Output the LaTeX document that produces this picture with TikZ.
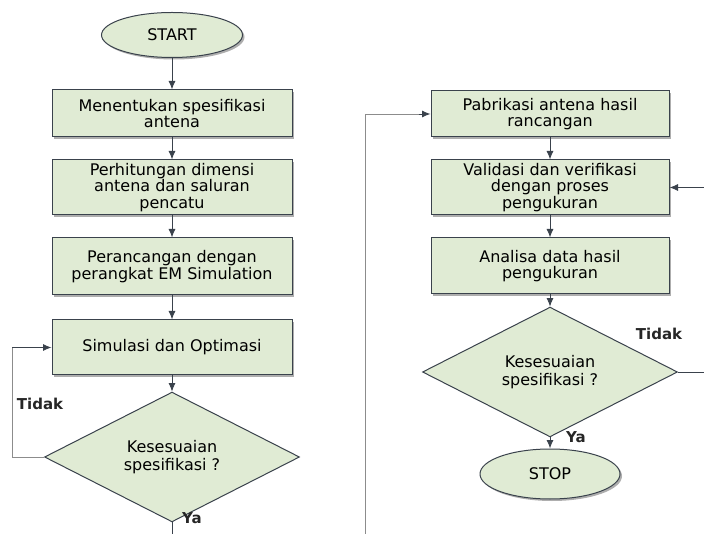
\documentclass[tikz,border=0pt]{standalone}
\usepackage{fontspec}
\setmainfont{DejaVu Sans}
\usetikzlibrary{shapes.geometric,arrows.meta,shadows}
\definecolor{hijau}{RGB}{224,235,212}
\definecolor{tepi}{RGB}{58,66,76}
\definecolor{abu}{RGB}{140,140,140}
\tikzset{
  bayang/.style={drop shadow={shadow xshift=2pt,shadow yshift=-2pt,fill=black!45,opacity=0.7}},
  proses/.style={rectangle, draw=tepi, fill=hijau, line width=1pt, minimum width=240pt, inner sep=0pt, align=center, font=\fontsize{16}{16.5}\selectfont, bayang},
  mulai/.style={ellipse, draw=tepi, fill=hijau, line width=1pt, inner sep=0pt, font=\fontsize{16}{16.5}\selectfont, bayang},
  cek/.style={diamond, draw=tepi, fill=hijau, line width=1pt, inner sep=0pt, minimum width=255pt, minimum height=110pt, align=center, font=\fontsize{16}{18}\selectfont},
  panah/.style={draw=tepi, line width=0.9pt, -{Latex[length=8.5pt,width=7pt]}},
  garis/.style={draw=tepi, line width=0.9pt},
  garisabu/.style={draw=abu, line width=0.9pt},
  label/.style={font=\fontsize{15}{16}\selectfont\bfseries, text=black!85}
}
\begin{document}
\begin{tikzpicture}[x=1pt,y=-1pt]

\useasboundingbox[fill=white] (0,0) rectangle (704,534);

\node[mulai, minimum width=141pt, minimum height=45pt] (start) at (172,35) {START};
\node[proses, minimum height=47pt] (spec) at (172,113.5) {Menentukan spesifikasi\\antena};
\node[proses, minimum height=55pt] (dimensi) at (172,187.5) {Perhitungan dimensi\\antena dan saluran\\pencatu};
\node[proses, minimum height=57pt] (rancang) at (172,266.5) {Perancangan dengan\\perangkat EM Simulation};
\node[proses, minimum height=55pt] (simulasi) at (172,347.5) {Simulasi dan Optimasi};
\node[cek] (cek1) at (172,457) {Kesesuaian\\spesifikasi ?};

\node[proses, minimum width=238pt, minimum height=46pt] (pabrik) at (550,114) {Pabrikasi antena hasil\\rancangan};
\node[proses, minimum width=238pt, minimum height=55pt] (validasi) at (550,187.5) {Validasi dan verifikasi\\dengan proses\\pengukuran};
\node[proses, minimum width=238pt, minimum height=56pt] (analisa) at (550,266) {Analisa data hasil\\pengukuran};
\node[cek] (cek2) at (550,372) {Kesesuaian\\spesifikasi ?};
\node[mulai, minimum width=140pt, minimum height=50pt] (stop) at (550,474) {STOP};

\coordinate (kiri) at (12,347.5);
\coordinate (bawah1) at (172,534);
\coordinate (bawah2) at (365,534);
\coordinate (kanan1) at (704,372);
\coordinate (kanan2) at (704,187.5);

\draw[panah] (start) -- (spec);
\draw[panah] (spec) -- (dimensi);
\draw[panah] (dimensi) -- (rancang);
\draw[panah] (rancang) -- (simulasi);
\draw[panah] (simulasi) -- (cek1);
\draw[garisabu] (cek1.west) -| (kiri);
\draw[panah] (kiri) -- (simulasi.west);
\draw[garis] (cek1.south) -- (bawah1);

\draw[garisabu] (bawah2) |- ([xshift=-12pt]pabrik.west);
\draw[panah] ([xshift=-12pt]pabrik.west) -- (pabrik.west);
\draw[panah] (pabrik) -- (validasi);
\draw[panah] (validasi) -- (analisa);
\draw[panah] (analisa) -- (cek2);
\draw[panah] (cek2) -- (stop);
\draw[garis] (cek2.east) -- (kanan1);
\draw[panah] (kanan2) -- (validasi.east);

\node[label] (tidak1) at (40,404) {Tidak};
\node[label] (ya1) at (192,518) {Ya};
\node[label] (tidak2) at (659,334) {Tidak};
\node[label] (ya2) at (576,437) {Ya};

\end{tikzpicture}
\end{document}
